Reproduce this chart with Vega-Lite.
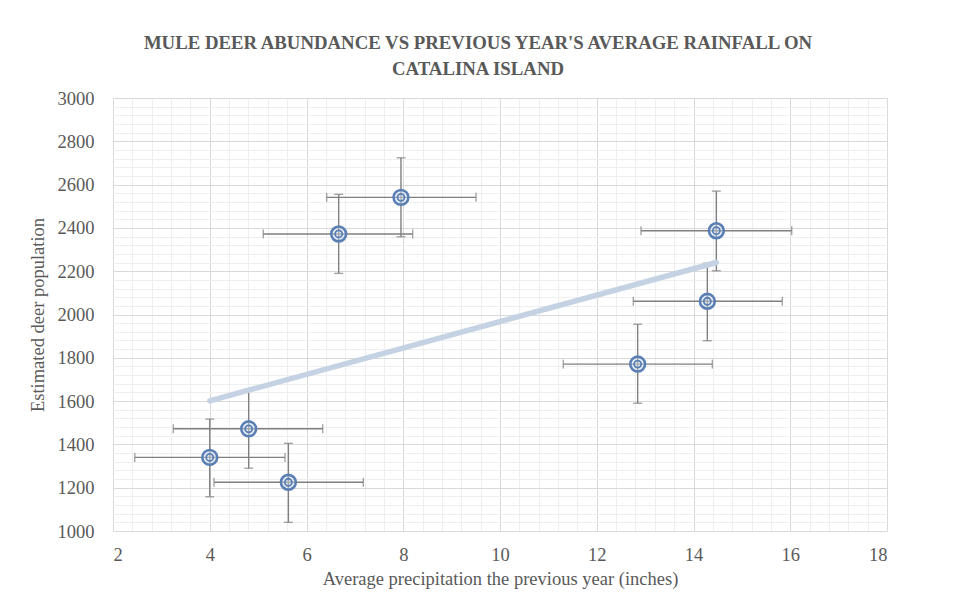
{
  "$schema": "https://vega.github.io/schema/vega-lite/v6.json",
  "autosize": {"type": "none"},
  "padding": {"left": 113, "top": 98, "right": 69, "bottom": 67},
  "width": 774,
  "height": 433,
  "background": "white",
  "title": {
    "text": ["MULE DEER ABUNDANCE VS PREVIOUS YEAR'S AVERAGE RAINFALL ON", "CATALINA ISLAND"],
    "anchor": "middle",
    "frame": "group",
    "dx": -22,
    "offset": 10,
    "font": "Liberation Serif",
    "fontSize": 18.8,
    "fontWeight": "bold",
    "color": "#595959",
    "lineHeight": 26
  },
  "data": {
    "values": [
      {"x": 4.0, "y": 1340, "xlo": 2.45, "xhi": 5.556, "ylo": 1158, "yhi": 1517},
      {"x": 4.805, "y": 1472, "xlo": 3.247, "xhi": 6.335, "ylo": 1290, "yhi": 1654},
      {"x": 5.625, "y": 1225, "xlo": 4.088, "xhi": 7.175, "ylo": 1040, "yhi": 1405},
      {"x": 6.665, "y": 2372, "xlo": 5.107, "xhi": 8.195, "ylo": 2190, "yhi": 2555},
      {"x": 7.953, "y": 2541, "xlo": 6.417, "xhi": 9.504, "ylo": 2359, "yhi": 2724},
      {"x": 12.846, "y": 1771, "xlo": 11.309, "xhi": 14.39, "ylo": 1590, "yhi": 1955},
      {"x": 14.286, "y": 2061, "xlo": 12.756, "xhi": 15.836, "ylo": 1879, "yhi": 2237},
      {"x": 14.472, "y": 2387, "xlo": 12.915, "xhi": 16.03, "ylo": 2202, "yhi": 2570}
    ]
  },
  "encoding": {
    "x": {
      "field": "x",
      "type": "quantitative",
      "scale": {"domain": [2, 18], "zero": false, "nice": false},
      "axis": {
        "title": "Average precipitation the previous year (inches)",
        "values": [2, 2.4, 2.8, 3.2, 3.6, 4, 4.4, 4.8, 5.2, 5.6, 6, 6.4, 6.8, 7.2, 7.6, 8, 8.4, 8.8, 9.2, 9.6, 10, 10.4, 10.8, 11.2, 11.6, 12, 12.4, 12.8, 13.2, 13.6, 14, 14.4, 14.8, 15.2, 15.6, 16, 16.4, 16.8, 17.2, 17.6, 18],
        "labelExpr": "abs(datum.value - round(datum.value/2)*2) < 0.001 ? format(datum.value, 'd') : ''",
        "labelOverlap": false,
        "gridColor": {"condition": {"test": "abs(datum.value - round(datum.value/2)*2) < 0.001", "value": "#d9d9d9"}, "value": "#efefef"},
        "labelPadding": 14,
        "titlePadding": 6
      }
    },
    "y": {
      "field": "y",
      "type": "quantitative",
      "scale": {"domain": [1000, 3000], "zero": false, "nice": false},
      "axis": {
        "title": "Estimated deer population",
        "values": [1000, 1040, 1080, 1120, 1160, 1200, 1240, 1280, 1320, 1360, 1400, 1440, 1480, 1520, 1560, 1600, 1640, 1680, 1720, 1760, 1800, 1840, 1880, 1920, 1960, 2000, 2040, 2080, 2120, 2160, 2200, 2240, 2280, 2320, 2360, 2400, 2440, 2480, 2520, 2560, 2600, 2640, 2680, 2720, 2760, 2800, 2840, 2880, 2920, 2960, 3000],
        "labelExpr": "datum.value % 200 === 0 ? format(datum.value, 'd') : ''",
        "labelOverlap": false,
        "gridColor": {"condition": {"test": "datum.value % 200 === 0", "value": "#d9d9d9"}, "value": "#efefef"},
        "labelPadding": 19,
        "titlePadding": 10
      }
    }
  },
  "layer": [
    {
      "mark": {"type": "errorbar", "ticks": true, "size": 9, "thickness": 1.4, "color": "#7f7f7f"},
      "encoding": {
        "x": {"field": "xlo", "type": "quantitative"},
        "x2": {"field": "xhi"},
        "y": {"field": "y", "type": "quantitative"}
      }
    },
    {
      "mark": {"type": "errorbar", "ticks": true, "size": 9, "thickness": 1.4, "color": "#7f7f7f"},
      "encoding": {
        "y": {"field": "ylo", "type": "quantitative"},
        "y2": {"field": "yhi"},
        "x": {"field": "x", "type": "quantitative"}
      }
    },
    {
      "transform": [{"regression": "y", "on": "x"}],
      "mark": {"type": "line", "color": "#c5d2e3", "strokeWidth": 5.5, "strokeCap": "round"},
      "encoding": {
        "x": {"field": "x", "type": "quantitative"},
        "y": {"field": "y", "type": "quantitative"}
      }
    },
    {
      "mark": {"type": "point", "shape": "circle", "size": 220, "filled": false, "stroke": "#5a7fb5", "strokeWidth": 2.6, "fill": "#d3deee", "fillOpacity": 0.45, "opacity": 1}
    },
    {
      "mark": {"type": "point", "shape": "circle", "size": 50, "filled": false, "stroke": "#5a7fb5", "strokeWidth": 1.8, "opacity": 1}
    }
  ],
  "config": {
    "font": "Liberation Serif",
    "view": {"stroke": null},
    "axis": {
      "domain": false,
      "ticks": false,
      "labelFont": "Liberation Serif",
      "labelFontSize": 18.5,
      "labelColor": "#595959",
      "titleFont": "Liberation Serif",
      "titleFontSize": 18.5,
      "titleFontWeight": "normal",
      "titleColor": "#595959",
      "gridWidth": 1
    }
  }
}
